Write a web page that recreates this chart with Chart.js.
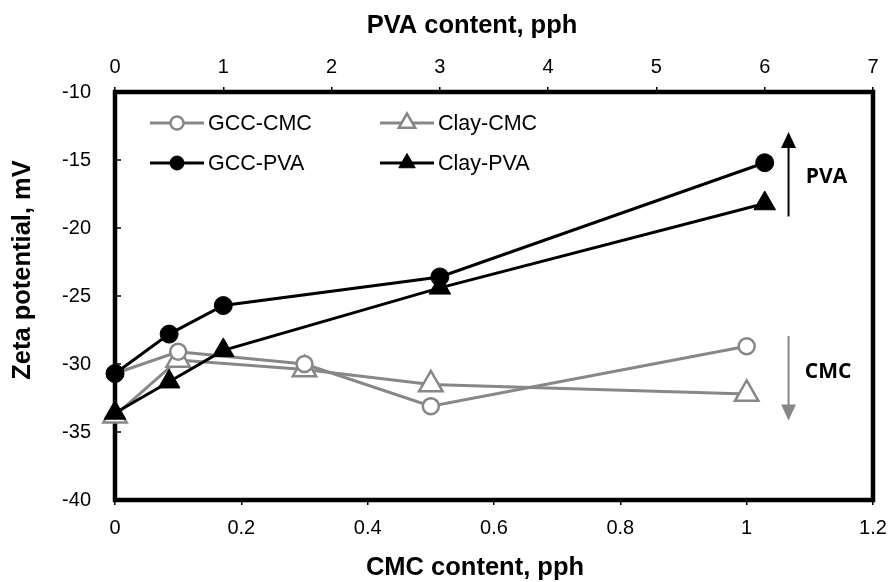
<!DOCTYPE html>
<html>
<head>
<meta charset="utf-8">
<script src="https://cdn.jsdelivr.net/npm/chart.js@4.4.1/dist/chart.umd.min.js"></script>
<style>
  html, body { margin: 0; padding: 0; background: #fff; }
</style>
</head>
<body>
<canvas id="zetaChart" width="890" height="582"></canvas>
<script>
// Data
const cmcContent = [0, 0.1, 0.3, 0.5, 1.0];
const gccCmc = [-30.7, -29.1, -30.0, -33.1, -28.7];
const clayCmc = [-33.8, -29.7, -30.4, -31.5, -32.2];

const pvaContent = [0, 0.5, 1, 3, 6];
const gccPva = [-30.7, -27.8, -25.7, -23.6, -15.2];
const clayPva = [-33.6, -31.3, -29.0, -24.4, -18.2];

const cmcTicks = [0, 0.2, 0.4, 0.6, 0.8, 1, 1.2];
const pvaTicks = [0, 1, 2, 3, 4, 5, 6, 7];
const zetaTicks = [-40, -35, -30, -25, -20, -15, -10];

const GREY = '#878787';
const FONT = "'Liberation Sans', Arial, sans-serif";
Chart.defaults.font.family = FONT;
Chart.defaults.color = '#000';

const toPoints = (xs, ys) => xs.map((x, i) => ({ x: x, y: ys[i] }));

// frame, inward y ticks, legend, arrows and axis titles
const decorations = {
    id: 'decorations',
    beforeDatasetsDraw(chart) {
        const { ctx, chartArea: a, scales } = chart;
        ctx.save();
        ctx.strokeStyle = '#000';
        ctx.lineWidth = 1.5;
        zetaTicks.forEach(v => {
            const y = scales.y.getPixelForValue(v);
            ctx.beginPath();
            ctx.moveTo(a.left, y);
            ctx.lineTo(a.left + 6, y);
            ctx.stroke();
        });
        ctx.lineWidth = 4.5;
        ctx.strokeRect(a.left, a.top, a.right - a.left, a.bottom - a.top);
        ctx.restore();
    },
    afterDraw(chart) {
        const { ctx, scales } = chart;
        ctx.save();

        // legend
        const items = [
            { text: 'GCC-CMC', x: 150, y: 123, color: GREY, style: 'circle', fill: '#fff', r: 6.5, bw: 2.5 },
            { text: 'Clay-CMC', x: 380, y: 123, color: GREY, style: 'triangle', fill: '#fff', r: 9.5, bw: 2.5 },
            { text: 'GCC-PVA', x: 150, y: 163, color: '#000', style: 'circle', fill: '#000', r: 7, bw: 1 },
            { text: 'Clay-PVA', x: 380, y: 163, color: '#000', style: 'triangle', fill: '#000', r: 9.5, bw: 1 }
        ];
        items.forEach(it => {
            ctx.strokeStyle = it.color;
            ctx.lineWidth = 3;
            ctx.beginPath();
            ctx.moveTo(it.x, it.y);
            ctx.lineTo(it.x + 54, it.y);
            ctx.stroke();
            ctx.fillStyle = it.fill;
            ctx.lineWidth = it.bw;
            Chart.helpers.drawPoint(ctx, { pointStyle: it.style, radius: it.r, borderWidth: it.bw, rotation: 0 }, it.x + 27, it.y);
            ctx.fillStyle = '#000';
            ctx.font = '21.5px ' + FONT;
            ctx.textAlign = 'left';
            ctx.textBaseline = 'middle';
            ctx.fillText(it.text, it.x + 58, it.y + 1);
        });

        // direction arrows
        const arrow = (xv, y0v, y1v, color) => {
            const x = scales.x2.getPixelForValue(xv);
            const y0 = scales.y.getPixelForValue(y0v);
            const y1 = scales.y.getPixelForValue(y1v);
            const dir = y1 < y0 ? -1 : 1;
            ctx.strokeStyle = color;
            ctx.fillStyle = color;
            ctx.lineWidth = 2;
            ctx.beginPath();
            ctx.moveTo(x, y0);
            ctx.lineTo(x, y1 - dir * 12);
            ctx.stroke();
            ctx.beginPath();
            ctx.moveTo(x, y1);
            ctx.lineTo(x - 7.5, y1 - dir * 16);
            ctx.lineTo(x + 7.5, y1 - dir * 16);
            ctx.closePath();
            ctx.fill();
        };
        arrow(6.22, -19.15, -12.95, '#000');
        arrow(6.22, -27.95, -34.15, GREY);

        ctx.fillStyle = '#000';
        ctx.font = "bold 21px 'Open Sans', " + FONT;
        ctx.textAlign = 'left';
        ctx.textBaseline = 'middle';
        ctx.fillText('PVA', scales.x2.getPixelForValue(6.38), scales.y.getPixelForValue(-16.25));
        ctx.fillText('CMC', scales.x2.getPixelForValue(6.37), scales.y.getPixelForValue(-30.6));

        // axis titles
        ctx.font = 'bold 25.5px ' + FONT;
        ctx.textAlign = 'center';
        ctx.fillText('PVA content, pph', 472, 26);
        ctx.fillText('CMC content, pph', 475, 568);
        ctx.translate(23, 270);
        ctx.rotate(-Math.PI / 2);
        ctx.fillText('Zeta potential, mV', 0, 0);

        ctx.restore();
    }
};

const fitX = h => s => {
    s.height = h;
    s.paddingLeft = 0;
    s.paddingRight = 0;
};

const ctx = document.getElementById('zetaChart').getContext('2d');

const zetaChart = new Chart(ctx, {
    type: 'line',
    data: {
        datasets: [{
            label: 'GCC-PVA',
            xAxisID: 'x2',
            data: toPoints(pvaContent, gccPva),
            borderColor: '#000',
            borderWidth: 3,
            pointStyle: 'circle',
            pointRadius: 9,
            pointBackgroundColor: '#000',
            pointBorderColor: '#000',
            pointBorderWidth: 1
        }, {
            label: 'Clay-PVA',
            xAxisID: 'x2',
            data: toPoints(pvaContent, clayPva),
            borderColor: '#000',
            borderWidth: 3,
            pointStyle: 'triangle',
            pointRadius: 12.5,
            pointBackgroundColor: '#000',
            pointBorderColor: '#000',
            pointBorderWidth: 1
        }, {
            label: 'GCC-CMC',
            xAxisID: 'x',
            data: toPoints(cmcContent, gccCmc),
            borderColor: GREY,
            borderWidth: 3,
            pointStyle: 'circle',
            pointRadius: 8,
            pointBackgroundColor: '#fff',
            pointBorderColor: GREY,
            pointBorderWidth: 2.5
        }, {
            label: 'Clay-CMC',
            xAxisID: 'x',
            data: toPoints(cmcContent, clayCmc),
            borderColor: GREY,
            borderWidth: 3,
            pointStyle: 'triangle',
            pointRadius: 13.5,
            pointBackgroundColor: '#fff',
            pointBorderColor: GREY,
            pointBorderWidth: 2.5
        }]
    },
    options: {
        responsive: false,
        animation: false,
        clip: false,
        layout: {
            padding: { left: 0, right: 17, top: 0, bottom: 0 }
        },
        plugins: {
            legend: { display: false },
            tooltip: { enabled: false }
        },
        scales: {
            x: {
                type: 'linear',
                position: 'bottom',
                min: 0,
                max: 1.2,
                afterBuildTicks: s => { s.ticks = cmcTicks.map(v => ({ value: v })); },
                afterFit: fitX(82),
                ticks: { font: { size: 20 }, color: '#000', padding: 11, callback: v => String(v) },
                grid: { drawOnChartArea: false, tickLength: 5, color: '#000', lineWidth: 1.5 },
                border: { display: false }
            },
            x2: {
                type: 'linear',
                position: 'top',
                min: 0,
                max: 7,
                afterBuildTicks: s => { s.ticks = pvaTicks.map(v => ({ value: v })); },
                afterFit: fitX(92),
                ticks: { font: { size: 20 }, color: '#000', padding: 8, callback: v => String(v) },
                grid: { drawOnChartArea: false, tickLength: 5, color: '#000', lineWidth: 1.5 },
                border: { display: false }
            },
            y: {
                type: 'linear',
                min: -40,
                max: -10,
                afterBuildTicks: s => { s.ticks = zetaTicks.map(v => ({ value: v })); },
                afterFit: s => { s.width = 115; s.paddingTop = 0; s.paddingBottom = 0; },
                ticks: { font: { size: 20 }, color: '#000', padding: 24, callback: v => String(v) },
                grid: { display: false, drawTicks: false },
                border: { display: false }
            }
        }
    },
    plugins: [decorations]
});
</script>
</body>
</html>
